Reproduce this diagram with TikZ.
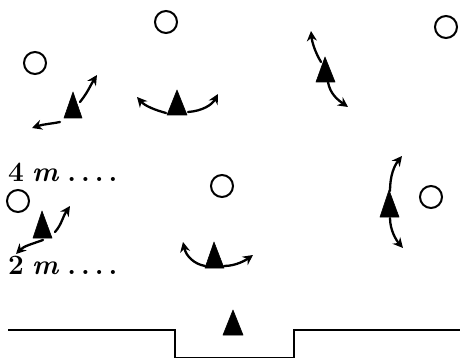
\documentclass[tikz,border=0pt]{standalone}
\usepackage{fontspec}
\usetikzlibrary{arrows.meta}
\begin{document}
\begin{tikzpicture}[x=1pt,y=-1pt,
  ball/.style={draw,line width=2pt,circle,minimum size=22pt,inner sep=0pt},
  player/.style={fill,draw,line width=0.6pt,line join=round},
  run/.style={line width=2.3pt,-{Stealth[length=10pt,width=10pt]},line cap=round},
  lbl/.style={anchor=west,inner sep=0pt,font=\bfseries\fontsize{28}{30}\selectfont}]
\useasboundingbox (0,0) rectangle (468,358);
% balls
\node[ball] (b1) at (166,22) {};
\node[ball] (b2) at (35,63) {};
\node[ball] (b3) at (446,27) {};
\node[ball] (b4) at (222,186) {};
\node[ball] (b5) at (18,201) {};
\node[ball] (b6) at (431,197) {};
% players (triangles)
\filldraw[player] (64,118) -- (73,92) -- (82,118) -- cycle;
\filldraw[player] (167,115) -- (177,90) -- (187,115) -- cycle;
\filldraw[player] (316,82) -- (325,57) -- (335,82) -- cycle;
\filldraw[player] (33,238) -- (42,211) -- (52,238) -- cycle;
\filldraw[player] (380,217) -- (389,190) -- (399,217) -- cycle;
\filldraw[player] (205,268) -- (214,242) -- (224,268) -- cycle;
\filldraw[player] (223,335) -- (233,310) -- (243,335) -- cycle;
% runs
\coordinate (a1s) at (80,102); \coordinate (a1e) at (97,75);
\draw[run] (a1s) .. controls (88,92) and (90,86) .. (a1e);
\coordinate (a2s) at (60,122); \coordinate (a2e) at (32,128);
\draw[run] (a2s) .. controls (50,124) and (44,124) .. (a2e);
\coordinate (a3s) at (166,113); \coordinate (a3e) at (137,97);
\draw[run] (a3s) .. controls (155,110) and (145,106) .. (a3e);
\coordinate (a4s) at (188,112); \coordinate (a4e) at (218,94);
\draw[run] (a4s) .. controls (202,111) and (212,105) .. (a4e);
\coordinate (a5s) at (321,62); \coordinate (a5e) at (311,31);
\draw[run] (a5s) .. controls (315,52) and (312,42) .. (a5e);
\coordinate (a6s) at (328,82); \coordinate (a6e) at (348,107);
\draw[run] (a6s) .. controls (330,94) and (338,100) .. (a6e);
\coordinate (a7s) at (55,232); \coordinate (a7e) at (70,206);
\draw[run] (a7s) .. controls (62,224) and (62,218) .. (a7e);
\coordinate (a8s) at (43,240); \coordinate (a8e) at (16,254);
\draw[run] (a8s) .. controls (32,244) and (24,246) .. (a8e);
\coordinate (a9s) at (390,191); \coordinate (a9e) at (402,156);
\draw[run] (a9s) .. controls (390,176) and (394,166) .. (a9e);
\coordinate (a10s) at (390,218); \coordinate (a10e) at (403,248);
\draw[run] (a10s) .. controls (390,230) and (396,240) .. (a10e);
\coordinate (a11s) at (205,266); \coordinate (a11e) at (183,242);
\draw[run] (a11s) .. controls (194,264) and (186,256) .. (a11e);
\coordinate (a12s) at (224,266); \coordinate (a12e) at (253,255);
\draw[run] (a12s) .. controls (236,266) and (246,260) .. (a12e);
% labels
\node[lbl] (t4) at (8,172) {4\kern8pt\textit{m}\kern8pt.\kern5pt.\kern5pt.\kern5pt.};
\node[lbl] (t2) at (8,265) {2\kern8pt\textit{m}\kern8pt.\kern5pt.\kern5pt.\kern5pt.};
% goal line
\draw[line width=1.6pt] (8,330) -- (175,330) -- (175,358) -- (294,358) -- (294,330) -- (460,330);
\end{tikzpicture}
\end{document}
